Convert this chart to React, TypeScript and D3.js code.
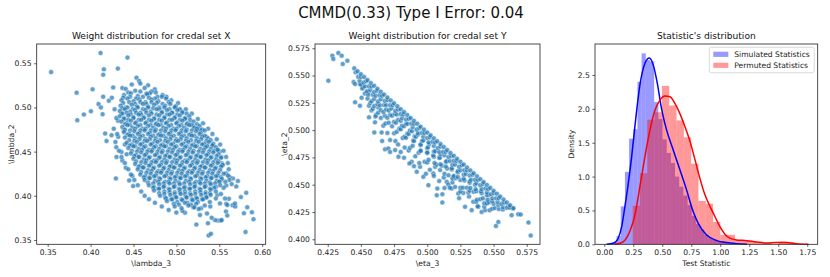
import React, { useRef, useEffect } from "react";
import * as d3 from "d3";

const figTitle = "CMMD(0.33) Type I Error: 0.04";
const panelTitles = [
  "Weight distribution for credal set X",
  "Weight distribution for credal set Y",
  "Statistic's distribution",
];
const xLabels = ["\\lambda_3", "\\eta_3", "Test Statistic"];
const yLabels = ["\\lambda_2", "\\eta_2", "Density"];
const legendLabels = ["Simulated Statistics", "Permuted Statistics"];

const lambdaTicksX = [0.35, 0.4, 0.45, 0.5, 0.55, 0.6];
const lambdaTicksY = [0.35, 0.4, 0.45, 0.5, 0.55];
const etaTicksX = [0.425, 0.45, 0.475, 0.5, 0.525, 0.55, 0.575];
const etaTicksY = [0.4, 0.425, 0.45, 0.475, 0.5, 0.525, 0.55, 0.575];
const statTicksX = [0, 0.25, 0.5, 0.75, 1, 1.25, 1.5, 1.75];
const statTicksY = [0, 0.5, 1, 1.5, 2, 2.5];

// credal set X weights (lambda_3, lambda_2), in thousandths
const lambdaPoints = [
  [354,540],[411.6,561.7],[443,556.4],[415.5,543.2],[414.7,537],[431.8,544],[453.5,533.7],[456.6,530],
  [383.7,516.7],[402.3,520.5],[384.5,485.6],[392.2,492],[400.4,495.8],[409.3,503.8],[412,500],[414.7,512.1],
  [414,492.4],[421.3,507.6],[424.8,511],[426.4,522.7],[417,470.5],[418.6,462.1],[424.4,468.6],[429.5,419.7],
  [430.2,444],[436,449.6],[441,431.8],[445,417.4],[449.6,411],[448.8,422.3],
  [432.2,466.7],[438.8,474.2],[436,493.2],[432,485],[430,455],[437,440],[442,447],[440,458],
  [523.3,367.4],[537.6,355],[540.3,357],[536.8,369],[535.7,380],[539.5,388],[548.4,372],[551.6,372],
  [557.8,382.2],[559.3,377.7],[558.1,391],[561.2,396.6],[565.5,389.4],[571.7,416.7],[569.8,410.6],[575.2,398.5],
  [578.7,380.3],[580.6,359.1],[581.4,403.4],[582.6,387.1],[588,381.4],[589.9,373.5],[568.6,387.9],[565.9,419.7],
  [562,421.2],[558.1,411.7],[564.4,413.3],[561.7,417.8],[550.8,416],[568.3,391.4],[559.4,389.5],[552.8,372.5],
  [545,372.5],[541.1,375.2],[527.5,378.2],[510,380.9],[519.8,386.9],[528.7,385.8],[550.8,391.4],[556.7,397],
  [547.7,400.8],
  [535.3,457.5],[550.8,450],[552.8,436.7],[557.8,425.4],[527.5,474.5],[519.8,478.3],[465.1,515.9],[474.8,520.5],
  [488.4,512.1],[499.2,501.5],[503.9,497],[509.7,487.5],[515.5,481.8],[523.3,476.1],[527.1,474.2],[534.9,466.7],
  [542.6,457.2],[548.4,451.5],[552.3,443.9],[553.5,434.5],
  [428,498],[430,488],[427,476],[431,470],[429,461],[433,451],[436,444],[440,437],[444,430],[447,424],
  [451,418],[455,412],[459,405],[463,400],[468,396],[475,392],[483,388],[491,384],[500,381],[507,383],
  [437,522],[448,526],[458,527],[467,525],[476,517],[484,514],[494,508],[502,505],[511,498],[518,493],
  [525,487],[531,482],[537,476],[542,470],[547,464],[551,458],[555,451],[558,444],[560,437],[561,430],
  [560,423],[557,416],[555,409],[552,402],[546,397],[539,393],[533,389],
  [441,521],[452,519],[463,522],[471,518],
  [444,517],[458,518],[469,516],
  [439,514],[447,516],[455,513],[466,515],[478,512],
  [438,511],[446,512],[453,510],[461,512],[468,511],[475,510],[483,512],
  [436,508],[443,510],[450,507],[457,509],[464,506],[471,509],[479,507],[488,510],
  [438,505],[445,506],[452,504],[458,506],[465,504],[471,506],[477,505],[484,504],[491,506],
  [435,502],[441,500],[448,503],[454,501],[461,504],[467,501],[474,503],[480,500],[487,502],[493,504],[499,501],
  [437,499],[443,500],[449,498],[455,500],[461,498],[467,500],[473,499],[480,498],[486,500],[492,498],[498,500],[504,498],
  [434,496],[440,498],[446,495],[452,497],[458,494],[464,497],[470,495],[477,498],[483,495],[489,497],[495,494],[501,497],[507,495],
  [437,493],[442,494],[447,492],[453,494],[459,492],[465,494],[471,493],[477,492],[483,494],[489,492],[495,494],[501,492],[507,494],[512,493],
  [434,490],[439,488],[444,491],[450,489],[456,492],[462,489],[468,491],[474,488],[480,491],[486,489],[492,492],[498,489],[504,491],[510,488],[515,490],
  [439,487],[444,486],[450,488],[456,486],[462,488],[468,486],[474,487],[480,486],[486,488],[492,486],[498,488],[504,486],[510,487],[516,486],
  [436,484],[442,482],[447,485],[453,483],[459,486],[465,483],[471,485],[477,482],[483,485],[489,483],[495,486],[501,483],[507,485],[513,482],[520,484],
  [440,481],[446,480],[452,482],[458,480],[464,482],[470,480],[476,481],[482,480],[488,482],[494,480],[500,482],[506,480],[512,481],[518,480],[524,481],
  [437,478],[443,480],[449,477],[455,479],[461,476],[467,479],[473,477],[479,480],[485,477],[491,479],[497,476],[503,479],[509,477],[515,480],[521,477],[527,479],
  [440,475],[446,474],[452,476],[458,474],[464,476],[470,474],[476,475],[482,474],[488,476],[494,474],[500,476],[506,474],[512,475],[518,474],[524,476],[530,475],
  [439,472],[445,470],[451,473],[457,471],[463,474],[469,471],[475,473],[481,470],[487,473],[493,471],[499,474],[505,471],[511,473],[517,470],[523,473],[529,471],[533,474],
  [443,469],[449,468],[455,470],[461,468],[467,470],[473,468],[479,469],[485,468],[491,470],[497,468],[503,470],[509,468],[515,469],[521,468],[527,470],[533,468],
  [440,466],[446,468],[452,465],[458,467],[464,464],[470,467],[476,465],[482,468],[488,465],[494,467],[500,464],[506,467],[512,465],[518,468],[524,465],[530,467],[537,465],
  [445,463],[451,462],[457,464],[463,462],[469,464],[475,462],[481,463],[487,462],[493,464],[499,462],[505,464],[511,462],[517,463],[523,462],[529,464],[535,462],[540,463],
  [442,460],[448,458],[454,461],[460,459],[466,462],[472,459],[478,461],[484,458],[490,461],[496,459],[502,462],[508,459],[514,461],[520,458],[526,461],[532,459],[538,461],[543,459],
  [446,457],[452,456],[458,458],[464,456],[470,458],[476,456],[482,457],[488,456],[494,458],[500,456],[506,458],[512,456],[518,457],[524,456],[530,458],[536,456],[542,457],
  [444,454],[450,456],[456,453],[462,455],[468,452],[474,455],[480,453],[486,456],[492,453],[498,455],[504,452],[510,455],[516,453],[522,456],[528,453],[534,455],[540,453],[546,455],
  [448,451],[454,450],[460,452],[466,450],[472,452],[478,450],[484,451],[490,450],[496,452],[502,450],[508,452],[514,450],[520,451],[526,450],[532,452],[538,450],[544,451],[548,452],
  [447,448],[453,446],[459,449],[465,447],[471,450],[477,447],[483,449],[489,446],[495,449],[501,447],[507,450],[513,447],[519,449],[525,446],[531,449],[537,447],[543,449],[549,447],
  [451,445],[457,444],[463,446],[469,444],[475,446],[481,444],[487,445],[493,444],[499,446],[505,444],[511,446],[517,444],[523,445],[529,444],[535,446],[541,444],[547,445],
  [450,442],[456,444],[462,441],[468,443],[474,440],[480,443],[486,441],[492,444],[498,441],[504,443],[510,440],[516,443],[522,441],[528,444],[534,441],[540,443],[546,441],[552,443],
  [453,439],[459,438],[465,440],[471,438],[477,440],[483,438],[489,439],[495,438],[501,440],[507,438],[513,440],[519,438],[525,439],[531,438],[537,440],[543,438],[549,439],
  [452,436],[458,434],[464,437],[470,435],[476,438],[482,435],[488,437],[494,434],[500,437],[506,435],[512,438],[518,435],[524,437],[530,434],[536,437],[542,435],[548,437],[554,435],
  [456,433],[462,432],[468,434],[474,432],[480,434],[486,432],[492,433],[498,432],[504,434],[510,432],[516,434],[522,432],[528,433],[534,432],[540,434],[546,432],[552,433],
  [455,430],[461,432],[467,429],[473,431],[479,428],[485,431],[491,429],[497,432],[503,429],[509,431],[515,428],[521,431],[527,429],[533,432],[539,429],[545,431],[551,429],
  [459,427],[465,426],[471,428],[477,426],[483,428],[489,426],[495,427],[501,426],[507,428],[513,426],[519,428],[525,426],[531,427],[537,426],[543,428],[549,426],
  [458,424],[464,422],[470,425],[476,423],[482,426],[488,423],[494,425],[500,422],[506,425],[512,423],[518,426],[524,423],[530,425],[536,422],[542,425],[548,423],[555,425],
  [462,421],[468,420],[474,422],[480,420],[486,422],[492,420],[498,421],[504,420],[510,422],[516,420],[522,422],[528,420],[534,421],[540,420],[546,422],[552,421],
  [463,418],[469,420],[475,417],[481,419],[487,416],[493,419],[499,417],[505,420],[511,417],[517,419],[523,416],[529,419],[535,417],[541,420],[547,417],[553,419],
  [467,415],[473,414],[479,416],[485,414],[491,416],[497,414],[503,415],[509,414],[515,416],[521,414],[527,416],[533,414],[539,415],[545,414],[550,416],
  [468,412],[474,410],[480,413],[486,411],[492,414],[498,411],[504,413],[510,410],[516,413],[522,411],[528,414],[534,411],[540,413],[546,410],[551,412],
  [473,409],[479,408],[485,410],[491,408],[497,410],[503,408],[509,409],[515,408],[521,410],[527,408],[533,410],[539,408],[544,409],
  [474,406],[480,408],[486,405],[492,407],[498,404],[504,407],[510,405],[516,408],[522,405],[528,407],[534,404],[540,407],[546,405],
  [480,403],[486,402],[492,404],[498,402],[504,404],[510,402],[516,403],[522,402],[528,404],[534,402],[539,403],
  [481,400],[487,398],[493,401],[499,399],[505,402],[511,399],[517,401],[523,398],[529,401],[535,399],[540,401],
  [488,397],[494,396],[500,398],[506,396],[512,398],[518,396],[524,397],[530,396],[535,398],
  [489,394],[495,396],[501,393],[507,395],[513,392],[519,395],[525,393],[531,396],
  [497,391],[503,390],[510,392],[517,390],[523,391],
  [498,388],[506,386],[514,389],[521,387],[526,385],
];

// credal set Y weights (eta_3, eta_2), in thousandths
const etaPoints = [
  [425.5,545.3],[428.5,568.2],[429.2,565.2],[433,570.7],[435.5,568.2],[436.3,560.6],[439.8,563.6],[444.5,544],
  [445.6,542.2],[449.3,542.2],[445.6,525.5],[449.3,522.3],[450.5,529.7],[451.8,539.2],[455.6,534.6],[456.1,522.3],
  [456.1,511.7],[460.1,497.9],[460.6,507.1],[461.4,514.1],[465.6,497.9],[466.9,504.1],[468.2,482.4],[463.1,520.8],
  [458,518],
  [492.1,461.8],[488.3,471],[497.1,457.2],[500.9,449.6],[507.2,440.4],[486.6,469.5],[482.5,474.7],[478.3,475.6],
  [475.8,481.7],[472,490.9],[470.7,483.2],[494.6,466.4],[504.6,460.3],[509.7,463.4],[514.7,452.6],[519.7,457.2],
  [507.6,446.5],[511.4,441.3],[511.4,433.7],[515.9,450.1],[518.4,446.5],[523.4,441.9],[527.2,442.5],[528.5,429.7],
  [533.5,426.7],[534.7,434.3],[538.5,429.7],[541,425.1],[543.6,426.7],[544.8,433.4],[546.1,440.4],[551.8,412.2],
  [553.6,415.9],[561.1,430.6],[564.4,428.5],[563.6,422.1],[568.6,423],[570.5,422.7],[576.3,415.3],[578,403.4],
  [476,490],[483,484],[491,476],[498,471],[505,458],[513,447],[521,448],[480,480],[490,467],[499,460],[466,490],[472,480],
  [470,497.4],[478,486.9],[486,481.3],[494,469.8],[502,463.7],[509,453.3],[517,447.2],[524,437.7],
  [461,512.5],[468.5,506],[475,497.1],[481.5,492.7],[487,483.8],[493.5,479.3],[500,470.4],[506,466.4],
  [512.5,456.5],[519,452.1],[525,443.7],[531.5,439.2],[538,430.3],
  [459,519.6],[465,511.2],[471,506.8],[477,498.4],[483,494],[489,485.6],[495,481.2],[501,472.8],[507,468.4],
  [513,460],[519,455.6],[525,447.2],[531,442.8],[537,434.3],[543,429.9],
  [457,524.8],[463,515.9],[468,513.2],[473.5,503.6],[479,501.5],[484,493],[489.5,490.4],[495,481],[500,479.1],
  [505.5,469.8],[511,467.4],[516,458.6],[521.5,456],[527,447.3],[532,444.6],[537.5,436.3],[543,433],[547,426.5],
  [455,528.9],[460,522.1],[465,518.2],[470,511.4],[475,507.6],[480,500.7],[485,496.9],[490,490],[495,486.2],
  [500,479.4],[505,475.5],[510,468.7],[515,464.8],[520,458],[525,454.2],[530,447.3],[535,443.5],[540,436.6],
  [545,432.8],[549,428],
  [453,533.5],[458,526.4],[462.5,523.6],[467,516.6],[472,514],[476.5,506.8],[481,504.1],[486,496.5],[490.5,494.3],
  [495,486.9],[500,483.5],[504.5,476.8],[509,474.6],[514,466.7],[518.5,464],[523,457.2],[528,453.8],[532.5,447],
  [537,444],[542,437.5],[546.5,434],[551,428.6],
  [451,538.2],[455.5,532.4],[460,528.6],[464.5,522.8],[469,519],[473.5,513.2],[478,509.4],[482.5,503.5],[487,499.7],
  [491.5,493.9],[496,490.1],[500.5,484.3],[505,480.5],[509.5,474.7],[514,470.9],[518.5,465.1],[523,461.3],[527.5,455.5],
  [532,451.7],[536.5,445.9],[541,442.1],[545.5,436.3],[550,432.5],[554,427.7],
  [450,541.8],[454.5,535.6],[459,532.4],[463,526.3],[467.5,523],[471,518],[475.5,514.9],[480,508.5],[484,505.6],
  [488.5,499],[493,496],[497,490.6],[501.5,487.4],[506,480.6],[510,477.7],[514.5,471.5],[519,468.3],[523,462.4],
  [527.5,459.1],[532,453],[536,450],[540.5,443.8],[545,440.5],[549,434.9],[553.5,431.5],[557,427.3],
  [449,545.3],[453,540.1],[457,536.8],[461,531.5],[465,528.2],[469,523],[473,519.7],[477,514.4],[481,511.1],
  [485,505.9],[489,502.6],[493,497.3],[497,494.1],[501,488.8],[505,485.5],[509,480.2],[513,477],[517,471.7],
  [521,468.4],[525,463.2],[529,459.9],[533,454.6],[537,451.3],[541,446.1],[545,442.8],[549,437.5],[553,434.2],
  [557,429.5],
  [448,548.9],[452,543.6],[456,540.1],[460,535],[464,532],[468,526.8],[472,522.9],[476,517.7],[480,514.8],
  [484,509.7],[488,506],[492,500.5],[496,497.5],[500,492.8],[504,489.4],[508,483.7],[512,480.2],[516,475.4],
  [520,472],[524,466.5],[528,463.3],[532,458.5],[536,454.5],[540,449.6],[544,446.5],[548,441.3],[552,437.5],
  [556,432.5],[560,428.8],
  [446,553],[450,548.6],[454,544.7],[458,540],[462,536.1],[466,531.5],[470,527.6],[474,522.9],[478,519],
  [482,514.4],[486,510.5],[490,505.8],[494,501.9],[498,497.3],[502,493.4],[506,488.7],[510,484.9],[514,480.2],
  [518,476.3],[522,471.7],[526,467.8],[530,463.1],[534,459.2],[538,454.6],[542,450.7],[546,446],[550,442.2],
  [554,437.5],[558,433.6],[562,429],
  [445,556.6],[447.5,553.9],[450,551.3],[452.5,548.6],[455,545.9],[457.5,543.2],[460,540.6],[462.5,537.9],
  [465,535.2],[467.5,532.6],[470,529.9],[472.5,527.2],[475,524.6],[477.5,521.9],[480,519.2],[482.5,516.5],
  [485,513.9],[487.5,511.2],[490,508.5],[492.5,505.9],[495,503.2],[497.5,500.5],[500,497.8],[502.5,495.2],
  [505,492.5],[507.5,489.8],[510,487.2],[512.5,484.5],[515,481.8],[517.5,479.1],[520,476.5],[522.5,473.8],
  [525,471.1],[527.5,468.5],[530,465.8],[532.5,463.1],[535,460.5],[537.5,457.8],[540,455.1],[542.5,452.4],
  [545,449.8],[547.5,447.1],[550,444.4],[552.5,441.8],[555,439.1],[557.5,436.4],[560,433.8],[562.5,431.1],
  [565,428.4],
];

// histogram densities
const simBinStart = 0.07;
const simBinWidth = 0.036;
const simDensity = [
  0.03, 0.12, 0.56, 1.07, 1.56, 1.7, 2.4, 2.82, 2.72, 2.7, 2.1, 1.85, 1.55, 1.35, 1.2,
  1.0, 0.85, 0.72, 0.58, 0.42, 0.3, 0.22, 0.14, 0.09, 0.07, 0.05, 0.04, 0.02, 0.01,
];
const permBinStart = 0.245;
const permBinWidth = 0.063;
const permDensity = [
  0.57, 1.05, 1.84, 1.95, 2.34, 2.05, 1.83, 1.58, 1.19, 0.64, 0.6, 0.33, 0.14, 0.14,
  0.06, 0.06, 0.04, 0.02, 0.02, 0, 0.04, 0.03,
];

// kde curves
const simKde = [
  [0.02, 0], [0.078, 0.015], [0.12, 0.09], [0.15, 0.26], [0.178, 0.56], [0.207, 0.9],
  [0.236, 1.29], [0.264, 1.74], [0.307, 2.35], [0.35, 2.67], [0.388, 2.75], [0.422, 2.65],
  [0.457, 2.38], [0.494, 2.0], [0.537, 1.69], [0.595, 1.39], [0.652, 1.1], [0.71, 0.8],
  [0.767, 0.48], [0.81, 0.31], [0.88, 0.14], [0.97, 0.054], [1.055, 0.025], [1.14, 0.01], [1.23, 0],
];
const permKde = [
  [0.09, 0], [0.135, 0.015], [0.178, 0.06], [0.22, 0.19], [0.264, 0.43], [0.307, 0.85],
  [0.35, 1.29], [0.394, 1.69], [0.437, 1.98], [0.48, 2.13], [0.523, 2.19], [0.566, 2.18],
  [0.609, 2.08], [0.652, 1.93], [0.695, 1.74], [0.739, 1.52], [0.782, 1.25], [0.825, 0.97],
  [0.868, 0.73], [0.911, 0.56], [0.954, 0.41], [0.997, 0.26], [1.04, 0.15], [1.083, 0.09],
  [1.14, 0.064], [1.227, 0.054], [1.313, 0.034], [1.4, 0.02], [1.486, 0.025], [1.57, 0.025],
  [1.66, 0.01], [1.76, 0],
];

const font = "DejaVu Sans, sans-serif";
const ink = "#222";

const App: React.FC = () => {
  const svgRef = useRef<SVGSVGElement>(null);

  useEffect(() => {
    if (!svgRef.current) return;
    const svg = d3.select(svgRef.current);
    svg.selectAll("*").remove();

    svg.append("rect").attr("width", 830).attr("height", 277).attr("fill", "#fff");
    svg
      .append("text")
      .attr("x", 411)
      .attr("y", 17.5)
      .attr("text-anchor", "middle")
      .attr("font-family", font)
      .attr("font-size", 15)
      .attr("fill", "#111")
      .text(figTitle);

    const panels = [
      { left: 36.7, top: 44, width: 229, height: 200.3, xDom: [0.3372, 0.6041], yDom: [0.3451, 0.5718], yLabOff: 23 },
      { left: 315, top: 44, width: 225, height: 200.3, xDom: [0.4154, 0.585], yDom: [0.3954, 0.5789], yLabOff: 28 },
      { left: 595, top: 44, width: 222.7, height: 200.3, xDom: [-0.08, 1.84], yDom: [0, 2.958], yLabOff: 21 },
    ];
    const tickSets = [
      [lambdaTicksX, lambdaTicksY, ".2f", ".2f"],
      [etaTicksX, etaTicksY, ".3f", ".3f"],
      [statTicksX, statTicksY, ".2f", ".1f"],
    ];

    const scales = panels.map((p) => ({
      x: d3.scaleLinear().domain(p.xDom).range([p.left, p.left + p.width]),
      y: d3.scaleLinear().domain(p.yDom).range([p.top + p.height, p.top]),
    }));

    // scatter panels
    [lambdaPoints, etaPoints].forEach((pts, i) => {
      const { x, y } = scales[i];
      svg
        .append("g")
        .selectAll("circle")
        .data(pts)
        .enter()
        .append("circle")
        .attr("cx", (d) => x(d[0] / 1000))
        .attr("cy", (d) => y(d[1] / 1000))
        .attr("r", 2.5)
        .attr("fill", "#1f77b4")
        .attr("stroke", "#fff")
        .attr("stroke-width", 0.5)
        .attr("opacity", 0.7);
    });

    // histogram panel
    const hx = scales[2].x;
    const hy = scales[2].y;
    const hists = [
      { start: simBinStart, w: simBinWidth, vals: simDensity, color: "blue" },
      { start: permBinStart, w: permBinWidth, vals: permDensity, color: "red" },
    ];
    hists.forEach((h) => {
      svg
        .append("g")
        .selectAll("rect")
        .data(h.vals)
        .enter()
        .append("rect")
        .attr("x", (_, i) => hx(h.start + i * h.w))
        .attr("width", (_, i) => hx(h.start + (i + 1) * h.w) - hx(h.start + i * h.w))
        .attr("y", (d) => hy(d))
        .attr("height", (d) => hy(0) - hy(d))
        .attr("fill", h.color)
        .attr("opacity", 0.4);
    });
    const line = d3
      .line<number[]>()
      .x((d) => hx(d[0]))
      .y((d) => hy(d[1]))
      .curve(d3.curveMonotoneX);
    [
      [simKde, "blue"],
      [permKde, "red"],
    ].forEach(([data, color]: any) => {
      svg
        .append("path")
        .attr("d", line(data))
        .attr("fill", "none")
        .attr("stroke", color)
        .attr("stroke-width", 1.5);
    });

    // axes, frames, titles
    panels.forEach((p, i) => {
      const { x, y } = scales[i];
      const [xt, yt, fx, fy] = tickSets[i] as any;
      const gx = svg
        .append("g")
        .attr("transform", `translate(0,${p.top + p.height})`)
        .call(
          d3.axisBottom(x).tickValues(xt).tickFormat(d3.format(fx)).tickSize(2.6).tickPadding(2.6).tickSizeOuter(0)
        );
      const gy = svg
        .append("g")
        .attr("transform", `translate(${p.left},0)`)
        .call(
          d3.axisLeft(y).tickValues(yt).tickFormat(d3.format(fy)).tickSize(2.6).tickPadding(2.6).tickSizeOuter(0)
        );
      [gx, gy].forEach((g) => {
        g.select(".domain").remove();
        g.attr("font-family", font).attr("font-size", 7.6);
        g.selectAll("line").attr("stroke", ink).attr("stroke-width", 0.7);
        g.selectAll("text").attr("fill", ink);
      });
      svg
        .append("rect")
        .attr("x", p.left)
        .attr("y", p.top)
        .attr("width", p.width)
        .attr("height", p.height)
        .attr("fill", "none")
        .attr("stroke", ink)
        .attr("stroke-width", 0.8);
      svg
        .append("text")
        .attr("x", p.left + p.width / 2)
        .attr("y", p.top - 5)
        .attr("text-anchor", "middle")
        .attr("font-family", font)
        .attr("font-size", 9.1)
        .attr("fill", "#111")
        .text(panelTitles[i]);
      svg
        .append("text")
        .attr("x", p.left + p.width / 2)
        .attr("y", p.top + p.height + 22)
        .attr("text-anchor", "middle")
        .attr("font-family", font)
        .attr("font-size", 7.6)
        .attr("fill", ink)
        .text(xLabels[i]);
      svg
        .append("text")
        .attr("transform", `translate(${p.left - p.yLabOff},${p.top + p.height / 2}) rotate(-90)`)
        .attr("text-anchor", "middle")
        .attr("font-family", font)
        .attr("font-size", 7.6)
        .attr("fill", ink)
        .text(yLabels[i]);
    });

    // legend
    const lg = svg.append("g");
    lg.append("rect")
      .attr("x", 709.3)
      .attr("y", 47.3)
      .attr("width", 105)
      .attr("height", 25.4)
      .attr("rx", 2)
      .attr("fill", "#fff")
      .attr("fill-opacity", 0.8)
      .attr("stroke", "#ccc")
      .attr("stroke-width", 0.7);
    ["blue", "red"].forEach((c, i) => {
      lg.append("rect")
        .attr("x", 713.3)
        .attr("y", 51.7 + i * 11)
        .attr("width", 15)
        .attr("height", 5.2)
        .attr("fill", c)
        .attr("opacity", 0.4);
      lg.append("text")
        .attr("x", 734.3)
        .attr("y", 57.1 + i * 11)
        .attr("font-family", font)
        .attr("font-size", 7.6)
        .attr("fill", ink)
        .text(legendLabels[i]);
    });
  }, []);

  return (
    <svg
      ref={svgRef}
      width={830}
      height={277}
      style={{ position: "absolute", left: 0, top: 0, display: "block" }}
    ></svg>
  );
};

export default App;
